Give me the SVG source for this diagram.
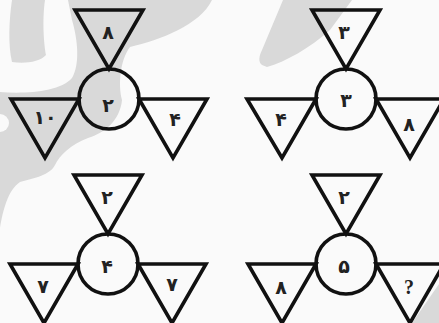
<svg xmlns="http://www.w3.org/2000/svg" width="439" height="323" viewBox="0 0 439 323">
<style>
.s{fill:none;stroke:#111;stroke-width:3.6;stroke-linejoin:miter}
.t{font-family:"DejaVu Sans",sans-serif;font-size:19px;font-weight:bold;fill:#222;text-anchor:middle}
.q{font-family:"Liberation Serif",serif;font-size:20px;font-weight:bold;fill:#222;text-anchor:middle}
.w{fill:#d9d9d9}
.bg{fill:#fafafa}
</style>
<rect width="439" height="323" class="bg"/>
<g id="watermark">
<path class="w" d="M0,0 L212,0 C200,25 160,40 130,47 C120,60 118,85 122,100 C120,120 105,133 88,138 C70,145 60,155 55,165 C50,175 35,178 20,182 C8,190 3,210 0,228 Z"/>
<path class="bg" d="M0,0 L12,0 C9,20 8,45 12,62 C25,64 40,62 46,55 C44,45 42,20 45,0 L68,0 L72,20 C78,40 80,65 72,78 C60,92 25,94 0,92 Z"/>
<circle class="bg" cx="0" cy="123" r="9"/>
<path class="w" d="M262,65 C258,62 259,56 262,50 L283,0 L352,0 L330,30 C310,48 285,62 267,67 Z"/>
<path class="w" d="M439,284 L412,323 L439,323 Z"/>
</g>
<g id="connectors"/>
<g id="fig1">
<g id="f1-top"><path class="s" d="M75,10 L143,10 L109,69 Z"/><text class="t" x="108" y="39">۸</text></g>
<g id="f1-center"><circle class="s" cx="109" cy="99" r="30"/><text class="t" x="108" y="112">۲</text></g>
<g id="f1-left"><path class="s" d="M11,99 L79,99 L45,158 Z"/><text class="t" x="45" y="124">۱۰</text></g>
<g id="f1-right"><path class="s" d="M139,99 L207,99 L173,158 Z"/><text class="t" x="175" y="126">۴</text></g>
</g>
<g id="fig2">
<g id="f2-top"><path class="s" d="M312,10 L380,10 L346,69 Z"/><text class="t" x="344" y="39">۳</text></g>
<g id="f2-center"><circle class="s" cx="346" cy="99" r="30"/><text class="t" x="346" y="107">۳</text></g>
<g id="f2-left"><path class="s" d="M247,99 L316,99 L282,158 Z"/><text class="t" x="281" y="126">۴</text></g>
<g id="f2-right"><path class="s" d="M376,99 L444,99 L410,158 Z"/><text class="t" x="409" y="131">۸</text></g>
</g>
<g id="fig3">
<g id="f3-top"><path class="s" d="M74,175 L142,175 L108,234 Z"/><text class="t" x="107" y="204">۲</text></g>
<g id="f3-center"><circle class="s" cx="108" cy="264" r="30"/><text class="t" x="107" y="273">۴</text></g>
<g id="f3-left"><path class="s" d="M10,264 L78,264 L44,323 Z"/><text class="t" x="43" y="293">۷</text></g>
<g id="f3-right"><path class="s" d="M138,264 L206,264 L172,323 Z"/><text class="t" x="172" y="291">۷</text></g>
</g>
<g id="fig4">
<g id="f4-top"><path class="s" d="M312,175 L380,175 L346,234 Z"/><text class="t" x="344" y="204">۲</text></g>
<g id="f4-center"><circle class="s" cx="346" cy="264" r="30"/><text class="t" x="344" y="273">۵</text></g>
<g id="f4-left"><path class="s" d="M248,264 L316,264 L282,323 Z"/><text class="t" x="281" y="294">۸</text></g>
<g id="f4-right"><path class="s" d="M376,264 L444,264 L410,323 Z"/><text class="q" x="409" y="294">?</text></g>
</g>
</svg>
